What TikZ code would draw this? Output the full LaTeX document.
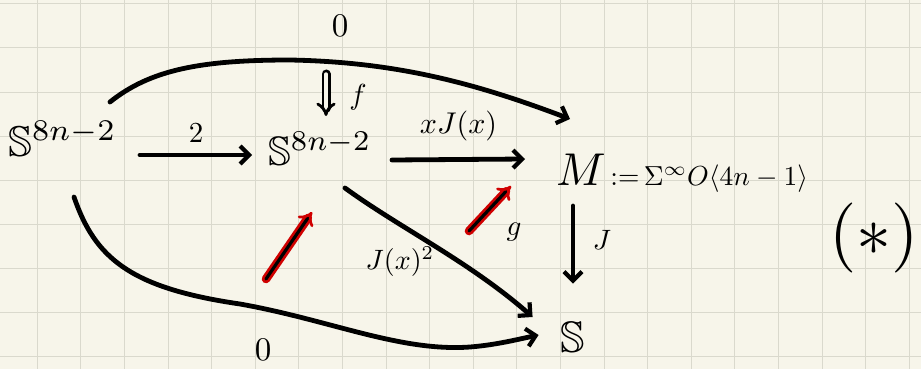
\documentclass[tikz,border=0pt]{standalone}
\usepackage{amssymb}
\usepackage{graphicx}
\usetikzlibrary{arrows.meta,calc}
\definecolor{paper}{HTML}{F7F5EA}
\definecolor{gridc}{HTML}{DAD9CD}
\definecolor{redink}{HTML}{D00000}
\begin{document}
\begin{tikzpicture}[x=1pt,y=-1pt,
  ink/.style={line width=4.8pt, line cap=round, line join=round},
  arr/.style={ink, -{Straight Barb[length=9pt,width=18pt,line width=4.2pt]}},
  lab/.style={inner sep=0pt},
  obj/.style={inner sep=0pt, anchor=base west},
  cell/.style={line width=2.7pt, draw=redink, double=black, double distance=3.2pt, line cap=round,
     -{Implies[length=11pt]}}
]
\fill[paper] (0,0) rectangle (921,369);
\useasboundingbox (0,0) rectangle (921,369);
\foreach \k in {0,...,20} \draw[gridc, line width=1pt] ({37.3+43.6*\k},0) -- ++(0,369);
\foreach \k in {0,...,8} \draw[gridc, line width=1pt] (0,{4+44*\k}) -- ++(921,0);

% objects
\node[obj] (L) at (8,156) {\scalebox{4.3}{$\mathbb{S}^{8n-2}$}};
\node[obj] (C) at (268,165) {\scalebox{4.1}{$\mathbb{S}^{8n-2}$}};
\node[obj] (M) at (556,185) {\scalebox{4.6}{$M$}\scalebox{2.75}{$\,{:}{=}\,\Sigma^{\infty}O\langle 4n-1\rangle$}};
\node[inner sep=0pt] (B) at (573,337) {\scalebox{4.4}{$\mathbb{S}$}};
\node[inner sep=0pt] (star) at (874,238) {\scalebox{7}{$(\ast)$}};

% horizontal maps
\draw[arr] ($(L.base west)+(132,-1)$) -- node[lab, above=10pt] (l2) {\scalebox{2.9}{$2$}} ($(C.base west)+(-16,-10)$);
\draw[arr] ($(C.base west)+(124,-5)$) -- node[lab, above=16pt] (lx) {\scalebox{3.0}{$xJ(x)$}} ($(M.base west)+(-31,-26)$);

% top zero arc
\draw[arr] ($(L.base west)+(102,-54)$) .. controls (150,70) and (200,60) .. (290,60)
  .. controls (400,62) and (480,85) .. ($(M.base west)+(14,-66)$);
\node[lab] (z1) at (340,26) {\scalebox{3.3}{$0$}};

% bottom zero arc
\draw[arr] ($(L.base west)+(66,41)$) .. controls (95,258) and (130,288) .. (240,304)
  .. controls (330,320) and (400,352) .. (470,347) .. controls (495,345) and (515,340) .. ($(B.west)+(-22,-2)$);
\node[lab] (z2) at (263,350) {\scalebox{3.3}{$0$}};

% diagonal J(x)^2
\draw[arr] ($(C.base west)+(77,23)$) .. controls (400,228) and (470,262) .. ($(B.west)+(-28,-20)$);
\node[lab] (lj2) at (400,262) {\scalebox{2.8}{$J(x)^2$}};

% vertical J
\draw[arr] ($(M.base west)+(17,21)$) -- ($(B.north)+(0,-38)$);
\node[lab] (lJ) at (602,240) {\scalebox{2.8}{$J$}};

% 2-cells
\draw[line width=2.8pt, double=paper, double distance=3.4pt, line cap=round, -{Implies[length=6pt]}] (326,74) -- (326,116);
\node[lab] (lf) at (358,97) {\scalebox{2.9}{$f$}};
\draw[cell] (266,279) -- (312,212);
\draw[cell] (469,231) -- (511,186);
\node[lab] (lg) at (514,232) {\scalebox{2.9}{$g$}};
\end{tikzpicture}
\end{document}
